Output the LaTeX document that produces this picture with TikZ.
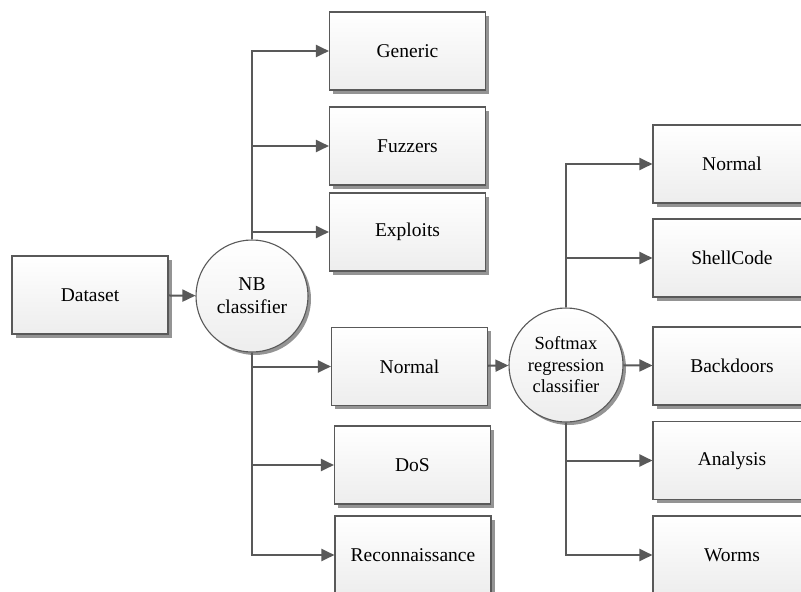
\documentclass[tikz,border=0pt]{standalone}
\usepackage{fontspec}
\setmainfont{Liberation Serif}
\usetikzlibrary{arrows.meta,shadows}
\begin{document}
\begin{tikzpicture}[
			x=1pt, y=-1pt,
			font=\fontsize{19.5}{23}\selectfont,
			box/.style={rectangle, draw=black!65, line width=1.1pt, minimum width=156pt, minimum height=78pt,
					top color=white, bottom color=black!7,
					drop shadow={shadow xshift=3.5pt, shadow yshift=-3.5pt, fill=black!42, opacity=1}},
			clf/.style={circle, draw=black!65, line width=1.1pt, align=center, inner sep=0pt,
					top color=white, bottom color=black!7,
					drop shadow={shadow xshift=3pt, shadow yshift=-3pt, fill=black!42, opacity=1}},
			link/.style={draw=black!65, line width=2pt, -{Triangle[length=13pt, width=12pt]}}
		]
		\clip (0,0) rectangle (801,592);
		\node[box] (dataset) at (90,295) {Dataset};
		\node[clf, minimum size=112pt] (nb) at (252,296) {NB\\classifier};
		\node[box] (generic) at (407.5,51) {Generic};
		\node[box] (fuzzers) at (407.5,146) {Fuzzers};
		\node[box] (exploits) at (407.5,232) {Exploits};
		\node[box] (normal) at (409.5,366.5) {Normal};
		\node[box] (dos) at (412.5,465) {DoS};
		\node[box] (recon) at (413,555) {Reconnaissance};
		\node[clf, minimum size=114pt, font=\fontsize{18.5}{21.5}\selectfont] (softmax) at (566,365) {Softmax\\regression\\classifier};
		\node[box, minimum width=158pt] (normalb) at (732,164) {Normal};
		\node[box, minimum width=158pt] (shellcode) at (732,258) {ShellCode};
		\node[box, minimum width=158pt] (backdoors) at (732,366) {Backdoors};
		\node[box, minimum width=158pt] (analysis) at (732,460.5) {Analysis};
		\node[box, minimum width=158pt] (worms) at (732,555) {Worms};

		\draw[link] (dataset) -- (nb);
		\foreach \t in {generic, fuzzers, exploits}
			\draw[link] (nb.north) |- (\t);
		\foreach \t in {normal, dos, recon}
			\draw[link] (nb.south) |- (\t);
		\draw[link] (normal) -- (softmax);
		\draw[link] (softmax) -- (backdoors);
		\foreach \t in {normalb, shellcode}
			\draw[link] (softmax.north) |- (\t);
		\foreach \t in {analysis, worms}
			\draw[link] (softmax.south) |- (\t);
	\end{tikzpicture}
\end{document}
